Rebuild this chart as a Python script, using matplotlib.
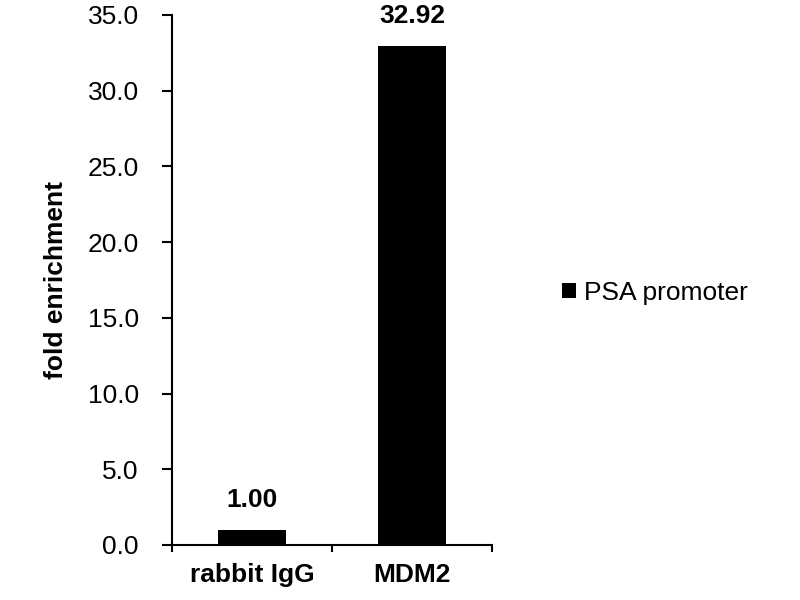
import matplotlib.pyplot as plt
import numpy as np

categories = ['rabbit IgG', 'MDM2']
values = [1.00, 32.92]
series_name = 'PSA promoter'
y_ticks = [0, 5, 10, 15, 20, 25, 30, 35]

plt.rcParams['font.family'] = ['Liberation Sans', 'DejaVu Sans']
fs = 19

fig = plt.figure(figsize=(8, 6), dpi=100)
ax = fig.add_axes([0.215, 0.0917, 0.40, 0.8833])

x = np.arange(len(categories))
bars = ax.bar(x, values, width=0.42, color='black', label=series_name)

for xi, v in zip(x, values):
    ax.annotate(f'{v:.2f}', (xi, v), xytext=(0, 13), textcoords='offset points',
                ha='center', va='bottom', fontsize=fs, fontweight='bold',
                annotation_clip=False)

ax.set_xlim(-0.5, len(categories) - 0.5)
ax.set_ylim(0, 35)
ax.set_yticks(y_ticks)
ax.set_yticklabels([f'{t:.1f}' for t in y_ticks], fontsize=fs)
ax.set_xticks(x)
ax.set_xticklabels(categories, fontsize=fs, fontweight='bold')
ax.set_xticks(np.arange(len(categories) + 1) - 0.5, minor=True)
ax.tick_params(axis='x', which='major', length=0, pad=13)
ax.tick_params(axis='x', which='minor', length=5, width=1.5, direction='out')
ax.tick_params(axis='y', length=7, width=1.5, direction='out', pad=17)

for side in ['top', 'right']:
    ax.spines[side].set_visible(False)
for side in ['left', 'bottom']:
    ax.spines[side].set_linewidth(1.5)

ax.set_ylabel('fold enrichment', fontsize=fs, fontweight='bold', labelpad=14)

fig.legend(handles=[bars], labels=[series_name], loc='center left',
           bbox_to_anchor=(0.6725, 0.512), frameon=False, fontsize=fs,
           handlelength=0.55, handleheight=0.55, handletextpad=0.3)

fig.savefig('out.png', dpi=100)
plt.close()
